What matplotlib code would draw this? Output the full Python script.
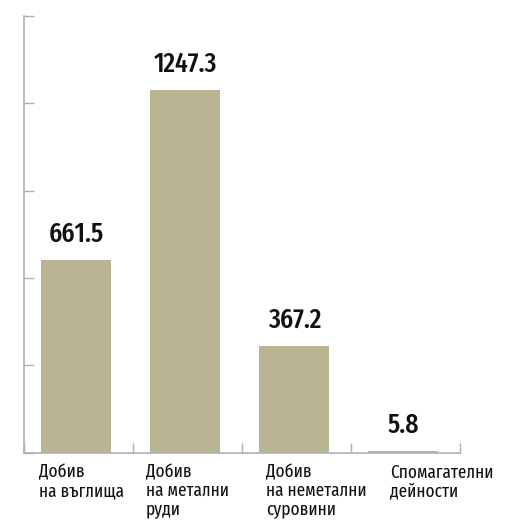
import matplotlib
matplotlib.use('Agg')
import matplotlib.pyplot as plt

categories = ['Добив\nна въглища', 'Добив\nна метални\nруди',
              'Добив\nна неметални\nсуровини', 'Спомагателни\nдейности']
values = [661.5, 1247.3, 367.2, 5.8]
value_labels = ['661.5', '1247.3', '367.2', '5.8']
yticks = [0, 300, 600, 900, 1200, 1500]
label_offsets = [0.14, 0.12, 0.22, 0.36]

plt.rcParams['font.family'] = ['Fira Sans Extra Condensed', 'DejaVu Sans']

fig = plt.figure(figsize=(5.13, 5.25), dpi=100)
ax = fig.add_axes([0.0468, 0.138, 0.85, 0.8316])

pos = [i + 0.48 for i in range(len(values))]
ax.bar(pos, values, width=0.64, color='#b9b593')

for p, v, t in zip(pos, values, value_labels):
    ax.annotate(t, (p, v), xytext=(0, 13), textcoords='offset points',
                ha='center', va='baseline', fontsize=20, fontweight='medium',
                color='#111111')

for i, c in enumerate(categories):
    ax.annotate(c, (i + label_offsets[i], 0), xytext=(0, -8),
                textcoords='offset points', ha='left', va='top',
                fontsize=13.5, linespacing=1.03,
                color='#111111', annotation_clip=False)

ax.set_xlim(0, 4)
ax.set_ylim(0, 1500)
ax.set_yticks(yticks)
ax.set_yticklabels([])
ax.set_xticks(range(5))
ax.set_xticklabels([])
ax.tick_params(axis='both', direction='in', length=7, width=1, color='#b0b0b0')
for s in ['top', 'right']:
    ax.spines[s].set_visible(False)
for s in ['left', 'bottom']:
    ax.spines[s].set_color('#b0b0b0')
    ax.spines[s].set_linewidth(1.2)

fig.savefig('out.png', dpi=100)
